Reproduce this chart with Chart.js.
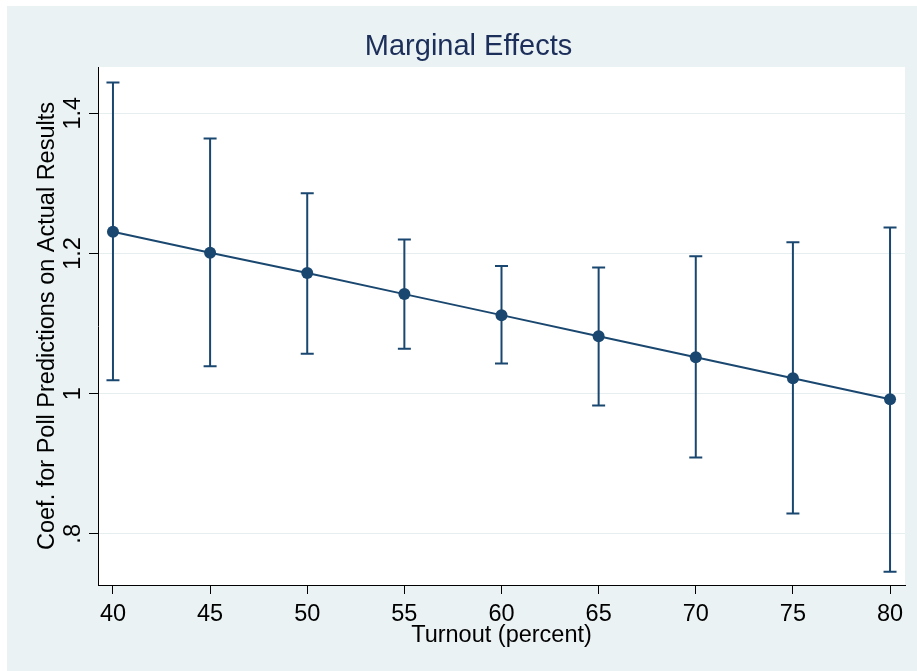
<!DOCTYPE html>
<html>
<head>
<meta charset="utf-8">
<script src="https://cdn.jsdelivr.net/npm/chart.js@4"></script>
<style>
  body { margin: 0; background: #ffffff; }
  #wrap { position: absolute; left: 7px; top: 6px; width: 910px; height: 665px; background: #eaf2f3; }
</style>
</head>
<body>
<div id="wrap"><canvas id="me-chart" width="910" height="665"></canvas></div>
<script>
// marginal effects chart

const turnout = [40, 45, 50, 55, 60, 65, 70, 75, 80];
const coef = [1.231, 1.201, 1.172, 1.142, 1.112, 1.082, 1.052, 1.022, 0.992];
const ciUpper = [1.444, 1.364, 1.286, 1.220, 1.182, 1.180, 1.196, 1.216, 1.237];
const ciLower = [1.019, 1.039, 1.057, 1.064, 1.043, 0.983, 0.909, 0.829, 0.746];
const xTicks = [40, 45, 50, 55, 60, 65, 70, 75, 80];
const yTicks = [0.8, 1, 1.2, 1.4];
const chartTitle = 'Marginal Effects';

const navy = '#1a476f';
const fontFam = 'Liberation Sans';

const plotBg = {
    id: 'plotBg',
    beforeDraw(chart) {
        const {ctx, chartArea: a} = chart;
        ctx.save();
        ctx.fillStyle = '#ffffff';
        ctx.fillRect(a.left, a.top, a.right - a.left, a.bottom - a.top);
        ctx.restore();
    }
};

// title centred on the whole graph region, not the plot
const graphTitle = {
    id: 'graphTitle',
    afterDraw(chart) {
        const ctx = chart.ctx;
        ctx.save();
        ctx.fillStyle = '#1c2e5a';
        ctx.font = '29px "' + fontFam + '"';
        ctx.textAlign = 'center';
        ctx.textBaseline = 'middle';
        ctx.fillText(chartTitle, 461.5, 41);
        ctx.restore();
    }
};

const errorBars = {
    id: 'errorBars',
    beforeDatasetsDraw(chart) {
        const {ctx, scales: {x, y}} = chart;
        ctx.save();
        ctx.strokeStyle = navy;
        ctx.lineWidth = 2;
        turnout.forEach(function(t, i) {
            const px = x.getPixelForValue(t);
            const top = y.getPixelForValue(ciUpper[i]);
            const bot = y.getPixelForValue(ciLower[i]);
            ctx.beginPath();
            ctx.moveTo(px, top); ctx.lineTo(px, bot);
            ctx.moveTo(px - 6.5, top); ctx.lineTo(px + 6.5, top);
            ctx.moveTo(px - 6.5, bot); ctx.lineTo(px + 6.5, bot);
            ctx.stroke();
        });
        ctx.restore();
    }
};

const ctx = document.getElementById('me-chart').getContext('2d');
const chart = new Chart(ctx, {
    type: 'line',
    data: {
        datasets: [{
            data: turnout.map(function(t, i) { return {x: t, y: coef[i]}; }),
            borderColor: navy,
            backgroundColor: navy,
            borderWidth: 2,
            pointRadius: 6,
            pointHoverRadius: 6,
            pointBorderWidth: 0,
            tension: 0
        }]
    },
    options: {
        responsive: false,
        animation: false,
        layout: { padding: { left: 0, right: 12, top: 61, bottom: 0 } },
        plugins: {
            legend: { display: false },
            tooltip: { enabled: false },
            title: { display: false }
        },
        scales: {
            x: {
                type: 'linear',
                min: 39.23,
                max: 80.77,
                afterBuildTicks: function(s) { s.ticks = xTicks.map(function(v) { return {value: v}; }); },
                afterFit: function(s) { s.height = 86; },
                grid: { drawOnChartArea: false, tickLength: 9, tickColor: '#000000', tickWidth: 1 },
                border: { display: true, color: '#000000', width: 1 },
                ticks: {
                    color: '#000000',
                    padding: 6,
                    maxRotation: 0,
                    font: { family: fontFam, size: 23.5 }
                },
                title: {
                    display: true,
                    text: 'Turnout (percent)',
                    color: '#000000',
                    font: { family: fontFam, size: 23.5, lineHeight: 1.2 },
                    padding: { top: 0, bottom: 21 }
                }
            },
            y: {
                type: 'linear',
                min: 0.727,
                max: 1.466,
                afterBuildTicks: function(s) { s.ticks = yTicks.map(function(v) { return {value: v}; }); },
                afterFit: function(s) { s.width = 91; },
                grid: { color: '#e6eef0', lineWidth: 1, tickLength: 9, tickColor: '#000000', tickWidth: 1 },
                border: { display: true, color: '#000000', width: 1 },
                ticks: {
                    color: '#000000',
                    padding: -1,
                    minRotation: 90,
                    maxRotation: 90,
                    crossAlign: 'center',
                    font: { family: fontFam, size: 23.5 },
                    callback: function(v) { return v === 1 ? '1' : String(v).replace(/^0/, ''); }
                },
                title: {
                    display: true,
                    text: 'Coef. for Poll Predictions on Actual Results',
                    color: '#000000',
                    font: { family: fontFam, size: 23.5, lineHeight: 1.2 },
                    padding: { top: 26, bottom: 0 }
                }
            }
        }
    },
    plugins: [plotBg, errorBars, graphTitle]
});
</script>
</body>
</html>
